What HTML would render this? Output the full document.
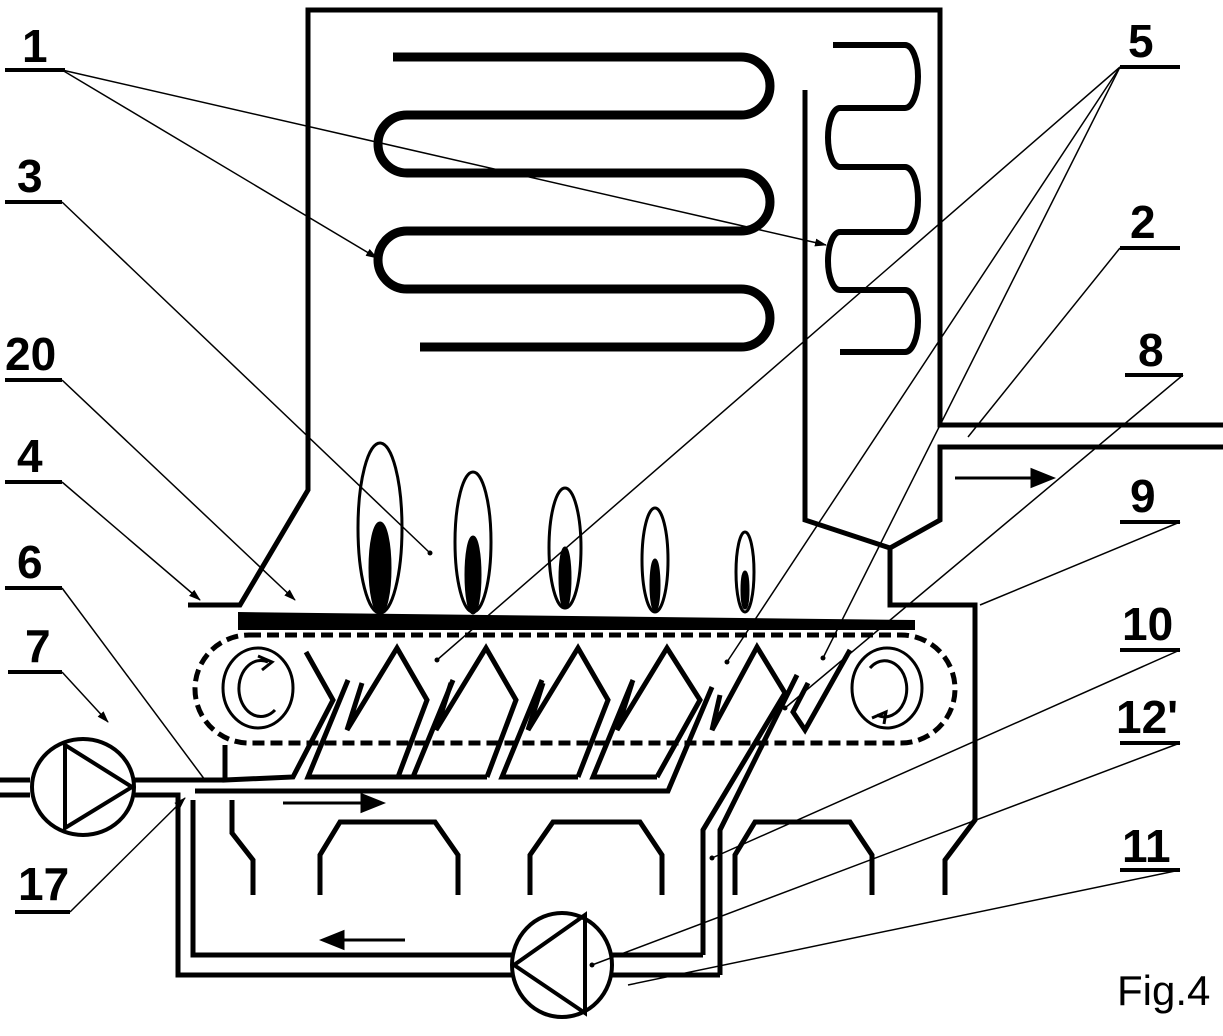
<!DOCTYPE html>
<html><head><meta charset="utf-8"><style>
html,body{margin:0;padding:0;background:#fff;width:1223px;height:1036px;overflow:hidden}
svg{display:block}
text{font-family:"Liberation Sans",Arial,sans-serif;font-size:46px;font-weight:bold;fill:#000}
</style></head><body>
<svg width="1223" height="1036" viewBox="0 0 1223 1036" xmlns="http://www.w3.org/2000/svg">
<defs>
<marker id="ar" markerWidth="12" markerHeight="8" refX="11" refY="4" orient="auto" markerUnits="userSpaceOnUse"><path d="M0,0 L12,4 L0,8 z" fill="#000"/></marker>
</defs>
<g fill="none" stroke="#000" stroke-width="5">
<!-- furnace outline -->
<path d="M188,605 L240,605 L308,490 L308,10 L940,10 L940,425 L1223,425"/>
<path d="M1223,447 L940,447 L940,520 L890,548 L890,605 L975,605 L975,820 L945,860 L945,895"/>
<path d="M805,90 L805,520 L890,548"/>
<!-- left serpentine -->
<path stroke-width="9" d="M393,57 L741,57 A29,29 0 0 1 741,115 L407,115 A29,29 0 0 0 407,173 L741,173 A29,29 0 0 1 741,231 L407,231 A29,29 0 0 0 407,289 L741,289 A29,29 0 0 1 741,347 L420,347"/>
<!-- right serpentine -->
<path stroke-width="6" d="M833,45 L905,45 A13,31.5 0 0 1 905,108 L840,108 A12,29.5 0 0 0 840,167 L905,167 A13,32.5 0 0 1 905,232 L840,232 A12,29 0 0 0 840,290 L905,290 A13,31 0 0 1 905,352 L840,352"/>
</g>
<!-- flames -->
<g stroke="#000" stroke-width="3">
<ellipse cx="380" cy="528" rx="22" ry="85" fill="#fff"/>
<ellipse cx="380" cy="568" rx="10" ry="45" fill="#000"/>
<ellipse cx="473" cy="542" rx="18" ry="70" fill="#fff"/>
<ellipse cx="473" cy="575" rx="7" ry="38" fill="#000"/>
<ellipse cx="565" cy="548" rx="16" ry="60" fill="#fff"/>
<ellipse cx="565" cy="578" rx="5" ry="30" fill="#000"/>
<ellipse cx="655" cy="560" rx="13" ry="52" fill="#fff"/>
<ellipse cx="655" cy="585" rx="4" ry="25" fill="#000"/>
<ellipse cx="745" cy="572" rx="9" ry="40" fill="#fff"/>
<ellipse cx="745" cy="590" rx="3" ry="18" fill="#000"/>
</g>
<!-- grate bar -->
<polygon points="238,612 915,620 915,630 238,630" fill="#000"/>
<!-- belt -->
<rect x="195" y="635" width="760" height="108" rx="54" fill="none" stroke="#000" stroke-width="5" stroke-dasharray="12 6"/>
<g fill="none" stroke="#000" stroke-width="3">
<ellipse cx="258" cy="688" rx="35" ry="40"/>
<path d="M275,710 A22,28 0 1 1 268,662"/><path d="M258,656 L272,662 L262,670"/>
<ellipse cx="887" cy="688" rx="35" ry="40"/>
<path d="M870,668 A22,28 0 1 1 877,715"/><path d="M872,718 L886,712 L884,724"/>
</g>
<!-- teeth -->
<g fill="none" stroke="#000" stroke-width="5" stroke-linejoin="miter">
<path d="M225,745 L225,780 L293,777 L333,700 L306,652"/>
<!-- unit 1 P=397 -->
<path d="M333,700 L333,700"/>
<path d="M398,777 L308,777 L348,680"/>
<path d="M362,683 L347,730 L397,648 L427,700 L398,777"/>
<!-- unit 2 P=486 -->
<path d="M487,777 L398,777 M413,777 L453,680"/>
<path d="M451,683 L436,730 L486,648 L516,700 L487,777"/>
<!-- unit 3 P=578 -->
<path d="M578,777 L502,777 L542,680"/>
<path d="M543,683 L528,730 L578,648 L608,700 L578,777"/>
<!-- unit 4 P=667 -->
<path d="M657,777 L593,777 L633,680"/>
<path d="M632,683 L617,730 L667,648 L700,700 L657,777"/>
<!-- lower rail -->
<path d="M195,791 L668,791 L712,687"/>
<!-- last unit P=757 -->
<path d="M720,695 L712,730 L757,647 L785,693 L703,830 L703,955"/>
<path d="M797,675 L720,830 L720,975"/>
<path d="M808,683 L793,712 L805,730 L850,650"/>
</g>
<!-- bottom pipes -->
<g fill="none" stroke="#000" stroke-width="5">
<path d="M0,780 L30,780 M0,795 L30,795"/>
<path d="M135,780 L225,780 M135,795 L178,795 L178,975 L512,975"/>
<path d="M193,800 L193,955 L512,955"/>
<path d="M600,955 L703,955"/>
<path d="M600,975 L720,975"/>
<path d="M232,800 L232,833 L253,860 L253,895"/>
<path d="M320,895 L320,855 L340,822 L435,822 L458,855 L458,895"/>
<path d="M530,895 L530,855 L553,822 L640,822 L662,855 L662,895"/>
<path d="M735,895 L735,855 L755,822 L850,822 L872,855 L872,895"/>
</g>
<!-- pumps -->
<g fill="#fff" stroke="#000" stroke-width="4">
<ellipse cx="83" cy="787" rx="51" ry="48"/>
<ellipse cx="562" cy="965" rx="50" ry="52"/>
</g>
<g fill="none" stroke="#000" stroke-width="4">
<path d="M65,745 L65,828 L132,787 Z"/>
<path d="M585,915 L585,1013 L514,965 Z"/>
</g>
<!-- flow arrows -->
<g stroke="#000" stroke-width="3" fill="#000">
<line x1="283" y1="803" x2="365" y2="803"/><polygon points="382,803 362,795 362,811"/>
<line x1="405" y1="940" x2="340" y2="940"/><polygon points="323,940 343,932 343,948"/>
<line x1="955" y1="478" x2="1035" y2="478"/><polygon points="1052,478 1032,470 1032,486"/>
</g>
<!-- label bars -->
<g stroke="#000" stroke-width="4">
<line x1="5" y1="70" x2="65" y2="70"/>
<line x1="5" y1="202" x2="62" y2="202"/>
<line x1="5" y1="380" x2="62" y2="380"/>
<line x1="5" y1="482" x2="62" y2="482"/>
<line x1="5" y1="588" x2="62" y2="588"/>
<line x1="8" y1="672" x2="62" y2="672"/>
<line x1="15" y1="912" x2="70" y2="912"/>
<line x1="1120" y1="67" x2="1180" y2="67"/>
<line x1="1120" y1="248" x2="1180" y2="248"/>
<line x1="1125" y1="375" x2="1183" y2="375"/>
<line x1="1120" y1="522" x2="1180" y2="522"/>
<line x1="1120" y1="650" x2="1180" y2="650"/>
<line x1="1120" y1="743" x2="1180" y2="743"/>
<line x1="1120" y1="870" x2="1180" y2="870"/>
</g>
<!-- leaders -->
<g stroke="#000" stroke-width="1.5" fill="none">
<line x1="62" y1="70" x2="377" y2="258" marker-end="url(#ar)"/>
<line x1="62" y1="70" x2="826" y2="245" marker-end="url(#ar)"/>
<line x1="62" y1="202" x2="430" y2="553"/>
<line x1="62" y1="380" x2="295" y2="600" marker-end="url(#ar)"/>
<line x1="62" y1="482" x2="200" y2="600" marker-end="url(#ar)"/>
<line x1="62" y1="588" x2="205" y2="780"/>
<line x1="62" y1="672" x2="108" y2="722" marker-end="url(#ar)"/>
<line x1="70" y1="912" x2="185" y2="798" marker-end="url(#ar)"/>
<line x1="1120" y1="67" x2="437" y2="660"/>
<line x1="1120" y1="67" x2="727" y2="662"/>
<line x1="1120" y1="67" x2="823" y2="658"/>
<line x1="1120" y1="248" x2="968" y2="437"/>
<line x1="1183" y1="375" x2="785" y2="708"/>
<line x1="1180" y1="522" x2="980" y2="605"/>
<line x1="1180" y1="650" x2="712" y2="858"/>
<line x1="1180" y1="743" x2="592" y2="965"/>
<line x1="1180" y1="870" x2="628" y2="985"/>
</g>
<g fill="#000">
<circle cx="437" cy="660" r="2.5"/><circle cx="727" cy="662" r="2.5"/><circle cx="823" cy="658" r="2.5"/>
<circle cx="785" cy="708" r="2.5"/><circle cx="712" cy="858" r="2.5"/><circle cx="592" cy="965" r="2.5"/>
<circle cx="430" cy="553" r="2.5"/><circle cx="205" cy="780" r="2.5"/>
</g>
<!-- labels -->
<text x="22" y="62">1</text>
<text x="17" y="192">3</text>
<text x="5" y="370">20</text>
<text x="17" y="472">4</text>
<text x="17" y="578">6</text>
<text x="25" y="662">7</text>
<text x="18" y="900">17</text>
<text x="1128" y="57">5</text>
<text x="1130" y="238">2</text>
<text x="1138" y="366">8</text>
<text x="1130" y="512">9</text>
<text x="1122" y="640">10</text>
<text x="1116" y="733">12'</text>
<text x="1122" y="862">11</text>
<text x="1117" y="1005" style="font-size:42px;font-weight:normal">Fig.4</text>
</svg>
</body></html>
